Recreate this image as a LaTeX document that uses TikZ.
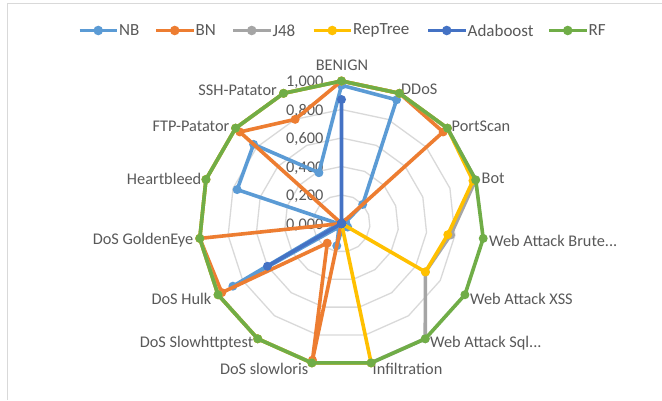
\documentclass[tikz,border=0pt]{standalone}
\usepackage{fontspec}
\setmainfont{Carlito}
\usetikzlibrary{calc}
\definecolor{nbC}{HTML}{5B9BD5}
\definecolor{bnC}{HTML}{ED7D31}
\definecolor{jC}{HTML}{A5A5A5}
\definecolor{rtC}{HTML}{FFC000}
\definecolor{adC}{HTML}{4472C4}
\definecolor{rfC}{HTML}{70AD47}
\definecolor{gridC}{HTML}{D9D9D9}
\definecolor{txtC}{HTML}{595959}
\tikzset{
  lbl/.style={text=txtC, inner sep=0pt, font=\fontsize{16.3}{19}\selectfont},
  leglbl/.style={lbl, font=\fontsize{17}{20}\selectfont},
  gridring/.style={draw=gridC, line width=1.3pt},
  serie/.style={line width=3.6pt, line join=round, line cap=round},
}
% one series: prefix, colour, 15 values clockwise from the top axis
\newcommand\radarseries[3]{%
  \foreach \v [count=\i from 0] in {#3} {
    \coordinate (#1\i) at ($(c)+({90-24*\i}:{\v*142.5})$);
  }
  \draw[serie, draw=#2] (#10) \foreach \i in {1,...,14}{ -- (#1\i) } -- cycle;
  \foreach \i in {0,...,14} { \fill[#2] (#1\i) circle (4.5); }
}
% one legend entry: name, colour, left end of the line sample, text
\newcommand\legitem[4]{%
  \coordinate (#1a) at (#3,-30.5);
  \coordinate (#1b) at (#3+37.5,-30.5);
  \draw[serie, draw=#2, line cap=butt] (#1a) -- (#1b);
  \fill[#2] ($(#1a)!0.5!(#1b)$) circle (4.8);
  \node[leglbl, anchor=west] (#1t) at (#3+39.5,-30.5) {#4};
}
\begin{document}
\begin{tikzpicture}[x=1pt, y=1pt]
\useasboundingbox (0,0) rectangle (662,-400);
\fill[white] (0,0) rectangle (662,-400);
% chart frame
\coordinate (fTR) at (662,-3.5);
\coordinate (fTL) at (7.5,-3.5);
\coordinate (fBL) at (7.5,-400);
\draw[draw=gridC, line width=1.3pt] (fTR) -- (fTL) -- (fBL);

\coordinate (c) at (341.5,-223.5);
% grid rings
\foreach \r in {0.2,0.4,0.6,0.8,1.0} {
  \draw[gridring] ($(c)+(90:{\r*142.5})$)
    \foreach \k in {1,...,14}{ -- ($(c)+({90-24*\k}:{\r*142.5})$) } -- cycle;
}
% value labels on the top axis
\foreach \r/\t in {0/{0,000}, 0.2/{0,200}, 0.4/{0,400}, 0.6/{0,600}, 0.8/{0,800}, 1.0/{1,000}} {
  \node[lbl, anchor=east] at (323.5,{-223.5+\r*142.5-1.5}) {\t};
}
% category labels
\node[lbl] (cat0) at (342,-65) {BENIGN};
\node[lbl, anchor=west] (cat1) at (401,-89) {DDoS};
\node[lbl, anchor=west] (cat2) at (451.5,-126) {PortScan};
\node[lbl, anchor=west] (cat3) at (481.5,-178.5) {Bot};
\node[lbl, anchor=west] (cat4) at (489,-240.5) {Web Attack Brute...};
\node[lbl, anchor=west] (cat5) at (470,-298.5) {Web Attack XSS};
\node[lbl, anchor=west] (cat6) at (430,-343.5) {Web Attack Sql...};
\node[lbl, anchor=west] (cat7) at (372.5,-369) {Infiltration};
\node[lbl, anchor=east] (cat8) at (308.5,-368.5) {DoS slowloris};
\node[lbl, anchor=east] (cat9) at (253.5,-343) {DoS Slowhttptest};
\node[lbl, anchor=east] (cat10) at (211.5,-298.5) {DoS Hulk};
\node[lbl, anchor=east] (cat11) at (193.5,-240.5) {DoS GoldenEye};
\node[lbl, anchor=east] (cat12) at (201.5,-178.5) {Heartbleed};
\node[lbl, anchor=east] (cat13) at (229.5,-126.5) {FTP-Patator};
\node[lbl, anchor=east] (cat14) at (277,-90) {SSH-Patator};

% series
\radarseries{nb}{nbC}{0.97,0.95,0.20,0.03,0.03,0.05,0.02,0.03,0.16,0.03,0.88,0.02,0.77,0.83,0.39}
\radarseries{bn}{bnC}{1.0,1.0,0.96,0,0,0,0,0,0.98,0.17,0.97,1.0,0,0.96,0.80}
\radarseries{jt}{jC}{1.0,1.0,1.0,0.99,0.77,0.68,1.0,1.0,1.0,1.0,1.0,1.0,1.0,1.0,1.0}
\radarseries{rt}{rtC}{1.0,1.0,1.0,0.97,0.75,0.68,0,1.0,1.0,1.0,1.0,1.0,1.0,1.0,1.0}
\radarseries{ad}{adC}{0.87,0,0,0,0,0,0,0,0,0,0.60,0,0,0,0}
\radarseries{rf}{rfC}{1.0,1.0,1.0,0.99,1.0,1.0,1.0,1.0,1.0,1.0,1.0,1.0,1.0,1.0,1.0}

% legend
\legitem{lnb}{nbC}{79.5}{NB}
\legitem{lbn}{bnC}{156}{BN}
\legitem{lj}{jC}{233}{J48}
\legitem{lrt}{rtC}{313.5}{RepTree}
\legitem{lad}{adC}{428}{Adaboost}
\legitem{lrf}{rfC}{549}{RF}
\end{tikzpicture}
\end{document}
